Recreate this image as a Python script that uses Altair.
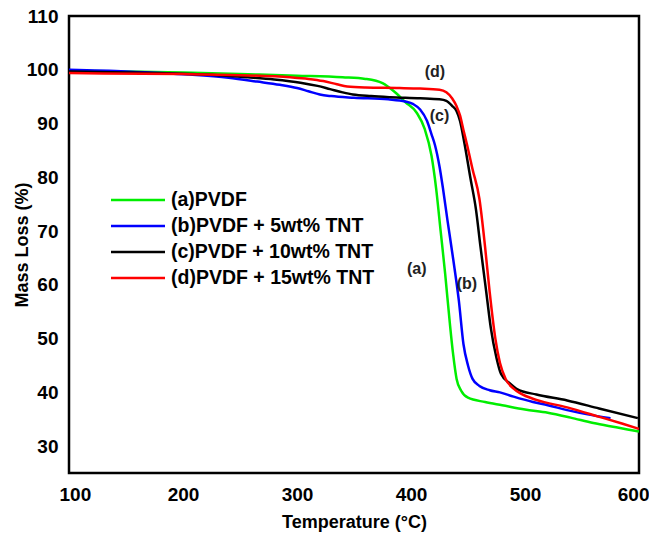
import altair as alt
import pandas as pd

series_names = ["(a)PVDF", "(b)PVDF + 5wt% TNT", "(c)PVDF + 10wt% TNT", "(d)PVDF + 15wt% TNT"]
series_colors = ["#00ee00", "#0000ff", "#000000", "#ff0000"]

temp_a = [100, 150, 200, 250, 300, 340, 360, 375, 385, 395, 405, 412, 418, 422, 426, 430, 434, 437, 440, 444, 450, 465, 480, 500, 520, 540, 560, 580, 600]
mass_a = [99.8, 99.7, 99.5, 99.2, 98.9, 98.6, 98.3, 97.5, 96.0, 94.0, 92.0, 89.0, 84.0, 78.0, 70.0, 62.0, 53.0, 47.0, 42.5, 40.3, 39.0, 38.2, 37.6, 36.8, 36.2, 35.3, 34.3, 33.5, 32.7]

temp_b = [100, 150, 206, 240, 265, 285, 300, 310, 320, 330, 350, 380, 395, 402, 408, 414, 418, 421, 425, 428, 432, 437, 442, 446, 450, 454, 460, 469, 478, 490, 507, 520, 537, 555, 575]
mass_b = [100.0, 99.7, 99.1, 98.5, 97.8, 97.2, 96.6, 96.0, 95.4, 95.1, 94.8, 94.5, 94.1, 93.6, 92.6, 90.5, 88.0, 86.0, 82.0, 78.0, 72.0, 64.8, 57.0, 49.0, 45.0, 42.5, 41.2, 40.4, 40.0, 39.2, 38.2, 37.6, 36.7, 35.9, 35.2]

temp_c = [100, 150, 190, 230, 257, 280, 303, 318, 329, 340, 349, 365, 382, 408, 425, 431, 436, 440, 443, 447, 452, 457, 461, 466, 470, 475, 479, 487, 493, 510, 537, 565, 599]
mass_c = [99.7, 99.5, 99.3, 99.0, 98.6, 98.2, 97.6, 97.0, 96.4, 95.8, 95.4, 95.1, 94.9, 94.7, 94.5, 94.2, 93.3, 92.3, 90.5, 86.2, 80.0, 74.0, 67.0, 58.7, 52.0, 46.4, 43.4, 41.6, 40.6, 39.6, 38.5, 37.0, 35.2]

temp_d = [100, 130, 200, 250, 294, 310, 323, 335, 344, 360, 390, 408, 425, 431, 436, 440, 443, 446, 449, 454, 460, 465, 469, 474, 478, 483, 490, 496, 510, 537, 566, 585, 600]
mass_d = [99.4, 99.3, 99.2, 99.0, 98.6, 98.3, 97.9, 97.3, 96.9, 96.7, 96.6, 96.5, 96.3, 95.8, 94.7, 93.2, 91.5, 88.8, 86.2, 81.5, 76.0, 67.0, 58.7, 50.0, 45.5, 42.5, 40.7, 39.8, 38.6, 37.2, 35.4, 34.2, 33.2]

label_text = ["(a)", "(b)", "(c)", "(d)"]
label_temp = [405, 449, 425, 421]
label_mass = [62.9, 60.2, 91.4, 99.6]

rows = []
for name, ts, ms in zip(series_names, [temp_a, temp_b, temp_c, temp_d], [mass_a, mass_b, mass_c, mass_d]):
    for t, m in zip(ts, ms):
        rows.append({"series": name, "temp": t, "mass": m})
df = pd.DataFrame(rows)
labels_df = pd.DataFrame({"text": label_text, "temp": label_temp, "mass": label_mass})

FONT = "Liberation Sans"
PLOT_H = 457

x_scale = alt.Scale(domain=[100, 600], nice=False, zero=False)
y_scale = alt.Scale(domain=[25, 110], nice=False, zero=False)

lines = alt.Chart(df).mark_line(strokeWidth=2.5, interpolate="monotone").encode(
    x=alt.X("temp:Q", scale=x_scale,
            axis=alt.Axis(title="Temperature (°C)", values=[100, 200, 300, 400, 500, 600],
                          labelPadding=12, labelFlush=True, labelFlushOffset=10,
                          titleY=49, titleBaseline="middle")),
    y=alt.Y("mass:Q", scale=y_scale,
            axis=alt.Axis(title="Mass Loss (%)", values=[30, 40, 50, 60, 70, 80, 90, 100, 110],
                          labelPadding=11, titleX=-47, titleY=PLOT_H / 2,
                          titleBaseline="middle", titleAngle=-90)),
    color=alt.Color("series:N",
                    scale=alt.Scale(domain=series_names, range=series_colors),
                    legend=alt.Legend(title=None, orient="none", legendX=54, legendY=169,
                                      symbolType="M-2,0H2", symbolSize=729,
                                      symbolStrokeWidth=2.5, labelOffset=18,
                                      labelFontSize=19.5, labelFont=FONT, labelFontWeight="bold",
                                      labelColor="black", rowPadding=1, padding=0,
                                      labelLimit=400)),
    order=alt.Order("temp:Q"),
)

texts = alt.Chart(labels_df).mark_text(fontSize=16, font=FONT, fontWeight="bold", color="#222222").encode(
    x=alt.X("temp:Q", scale=x_scale),
    y=alt.Y("mass:Q", scale=y_scale),
    text="text:N",
)

chart = alt.layer(lines, texts).properties(
    width=570, height=PLOT_H,
    autosize=alt.AutoSizeParams(type="none"),
    padding={"left": 61, "top": 8, "right": 10, "bottom": 60},
).configure_view(
    stroke="black", strokeWidth=2.5
).configure_axis(
    grid=False, domain=False, ticks=False,
    labelFont=FONT, labelFontSize=19, labelFontWeight="bold", labelColor="black",
    titleFont=FONT, titleFontSize=18, titleFontWeight="bold", titleColor="black",
)

chart.save("out.html", embed_options={"renderer": "svg", "actions": False})
